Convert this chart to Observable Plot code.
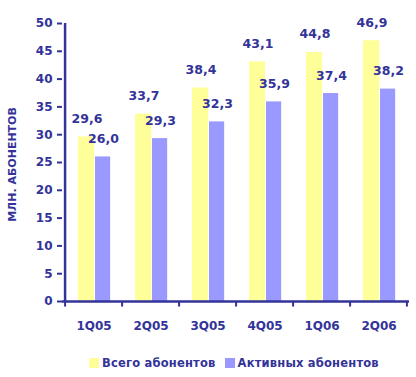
<!DOCTYPE html>
<html><head><meta charset="utf-8">
<script src="https://cdn.jsdelivr.net/npm/d3@7"></script>
<script src="https://cdn.jsdelivr.net/npm/@observablehq/plot@0.6"></script>
<style>
body{margin:0;background:#fff;font-family:"DejaVu Sans",sans-serif;}
#legend{display:flex;align-items:center;height:29px;padding-left:89px;font-weight:bold;font-size:11.5px;color:#333399;letter-spacing:0.2px;}
#legend .sw{width:10px;height:10px;display:inline-block;margin-right:3px;}
</style>
</head><body>
<div id="chart"></div>
<div id="legend"></div>
<script>
const quarters = ["1Q05","2Q05","3Q05","4Q05","1Q06","2Q06"];
const totalSubs = [29.6, 33.7, 38.4, 43.1, 44.8, 46.9];
const activeSubs = [26.0, 29.3, 32.3, 35.9, 37.4, 38.2];
const seriesNames = ["Всего абонентов", "Активных абонентов"];
const seriesColors = ["#FFFF99", "#9999FF"];
const yTicks = [0,5,10,15,20,25,30,35,40,45,50];

const ink = "#333399";
const fmt = v => v.toFixed(1).replace(".", ",");
const W = 416, H = 348, mL = 62, mR = 7, mT = 23, mB = 47;
const bw = (W - mL - mR) / quarters.length;

const total = quarters.map((q, i) => ({q, v: totalSubs[i]}));
const active = quarters.map((q, i) => ({q, v: activeSubs[i]}));

const chart = Plot.plot({
  width: W, height: H,
  marginLeft: mL, marginRight: mR, marginTop: mT, marginBottom: mB,
  style: {fontFamily: "DejaVu Sans, sans-serif", fontWeight: "bold", color: ink, background: "#fff"},
  x: {domain: quarters, padding: 0, label: null},
  y: {domain: [0, 50], label: null},
  marks: [
    Plot.barY(total, {x: "q", y: "v", fill: seriesColors[0], insetLeft: 13, insetRight: bw - 30}),
    Plot.barY(active, {x: "q", y: "v", fill: seriesColors[1], insetLeft: 30, insetRight: bw - 46}),
    Plot.text(total, {x: "q", y: "v", text: d => fmt(d.v), dx: -7, dy: -14, lineAnchor: "bottom", fill: ink, fontSize: 12.5, fontWeight: "bold", letterSpacing: 0.5}),
    Plot.text(active, {x: "q", y: "v", text: d => fmt(d.v), dx: 9.5, dy: -14, lineAnchor: "bottom", fill: ink, fontSize: 12.5, fontWeight: "bold", letterSpacing: 0.5}),
    Plot.axisY({ticks: yTicks, tickSize: 5, tickPadding: 5, fontSize: 12, fontWeight: "bold", stroke: ink, strokeWidth: 2, fill: ink, label: null}),
    Plot.text(["МЛН. АБОНЕНТОВ"], {frameAnchor: "left", textAnchor: "middle", rotate: -90, dx: -50, dy: 2, fill: ink, fontSize: 11, fontWeight: "bold"}),
    Plot.axisX({tickSize: 0, tickPadding: 20, fontSize: 12, fontWeight: "bold", fill: ink, label: null}),
    Plot.ruleX(quarters, {x: d => d, y1: 0, y2: -1, dx: -bw / 2, stroke: ink, strokeWidth: 2}),
    Plot.ruleX([quarters[quarters.length - 1]], {x: d => d, y1: 0, y2: -1, dx: bw / 2 - 1, stroke: ink, strokeWidth: 2}),
    Plot.ruleX([quarters[0]], {x: d => d, y1: 0, y2: 50, dx: -bw / 2, stroke: ink, strokeWidth: 2.5}),
    Plot.ruleY([0], {stroke: ink, strokeWidth: 2.5})
  ]
});
document.getElementById("chart").appendChild(chart);

const legend = document.getElementById("legend");
seriesNames.forEach((name, i) => {
  const sw = document.createElement("span");
  sw.className = "sw"; sw.style.background = seriesColors[i];
  const t = document.createElement("span");
  t.textContent = name;
  t.style.marginRight = i === 0 ? "9px" : "0";
  legend.appendChild(sw); legend.appendChild(t);
});
</script>
</body></html>
